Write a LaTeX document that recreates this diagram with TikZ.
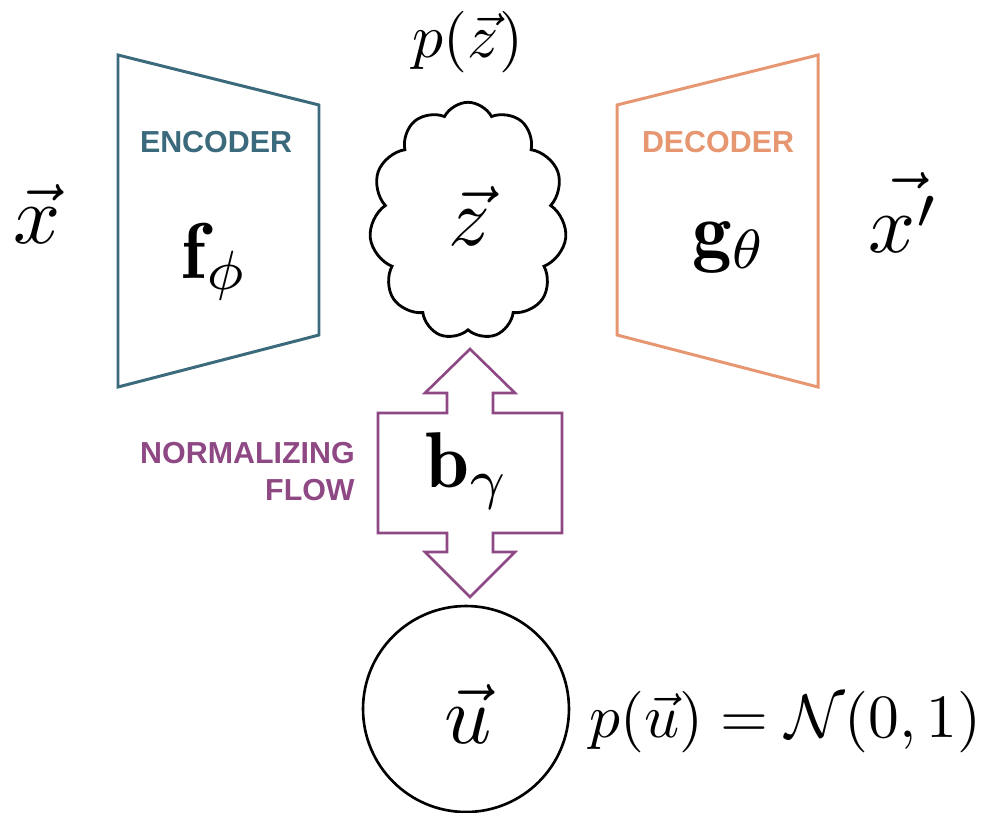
\documentclass[tikz,border=0pt]{standalone}
\usepackage{fontspec}
\usetikzlibrary{shapes.symbols}
\newfontfamily\labelfont{Liberation Sans}
\definecolor{enccol}{RGB}{58,106,124}
\definecolor{deccol}{RGB}{230,150,112}
\definecolor{flowcol}{RGB}{142,72,132}
\tikzset{
  bigmath/.style={inner sep=0pt, scale=4.7, anchor=base},
  boldmath/.style={inner sep=0pt, scale=4.5, anchor=base},
  smallmath/.style={inner sep=0pt, scale=3.5, anchor=base},
  caplabel/.style={inner sep=0pt, anchor=base, font=\labelfont\bfseries\fontsize{17.3pt}{20pt}\selectfont},
  encline/.style={draw=enccol, line width=1.7pt, line join=miter},
  decline/.style={draw=deccol, line width=1.7pt, line join=miter},
  flowline/.style={draw=flowcol, line width=1.5pt, line join=miter},
}
\begin{document}
\begin{tikzpicture}[x=0.02cm, y=-0.02cm]
\useasboundingbox (0,0) rectangle (984,812);

% encoder
\draw[encline] (118,55) -- (319,105) -- (319,335) -- (118,387) -- cycle;
\node[caplabel, text=enccol] (enc) at (216,152) {ENCODER};
\node[boldmath] (f) at (215,278) {$\mathbf{f}_\phi$};

% decoder
\draw[decline] (617,105) -- (818,55) -- (818,387) -- (617,335) -- cycle;
\node[caplabel, text=deccol] (dec) at (718,152) {DECODER};
\node[boldmath] (g) at (730,257) {$\mathbf{g}_\theta$};

% inputs / outputs
\node[bigmath] (x) at (37,243) {$\vec{x}$};
\node[bigmath] (xp) at (904,252) {$\vec{x'}$};

% latent cloud
\node[cloud, draw, line width=1.6pt, cloud puffs=11, cloud puff arc=125,
      cloud ignores aspect, minimum width=3.95cm, minimum height=4.75cm,
      inner sep=0pt] (cl) at (468,221) {};
\node[bigmath] (z) at (470,245) {$\vec{z}$};
\node[smallmath] (pz) at (468,57) {$p(\vec{z})$};

% normalizing flow double arrow
\node[boldmath] (b) at (468,487) {$\mathbf{b}_\gamma$};
\draw[flowline] (470,349) -- (515,393) -- (493,393) -- (493,413) -- (562,413)
  -- (562,533) -- (493,533) -- (493,552) -- (515,552) -- (470,597)
  -- (425,552) -- (447,552) -- (447,533) -- (378,533) -- (378,413)
  -- (447,413) -- (447,393) -- (425,393) -- cycle;
\node[caplabel, text=flowcol, anchor=base east] (nf1) at (355,463) {NORMALIZING};
\node[caplabel, text=flowcol, anchor=base east] (nf2) at (355,500) {FLOW};

% base distribution
\node[circle, draw, line width=1.5pt, minimum size=4.12cm, inner sep=0pt] (uc) at (466,709) {};
\node[bigmath] (u) at (468,743) {$\vec{u}$};
\node[smallmath, anchor=base west] (pu) at (588,737) {$p(\vec{u})=\mathcal{N}(0,1)$};
\end{tikzpicture}
\end{document}
